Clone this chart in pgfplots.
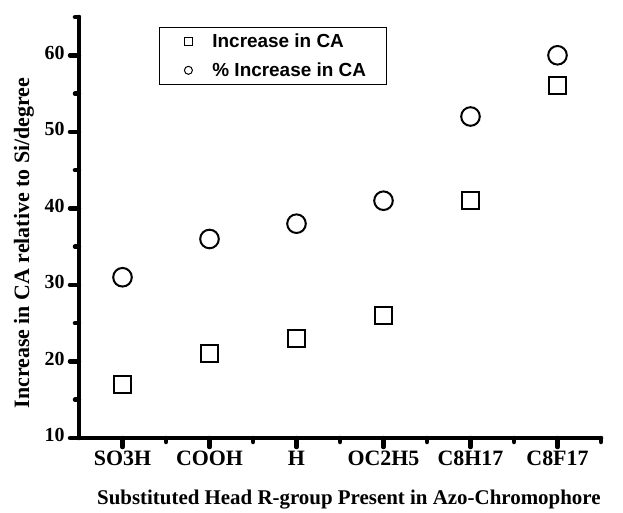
\documentclass[border=0pt]{standalone}
\usepackage{pgfplots}
\pgfplotsset{compat=1.18}
\usepackage{fontspec}
\setmainfont{Liberation Serif}
\newfontfamily\arial{Liberation Sans}
\pgfplotstableread{
x inc pct
1 17 31
2 21 36
3 23 38
4 26 41
5 41 52
6 56 60
}\datatable
\begin{document}
\begin{tikzpicture}
\path[use as bounding box] (-79bp,-75bp) rectangle (544bp,438bp);
\begin{axis}[
  scale only axis,
  width=522bp, height=421bp,
  xmin=0.5, xmax=6.5, ymin=10, ymax=65,
  axis lines=left,
  axis line style={-, line width=4.5bp, line cap=round},
  xtick={1,...,6},
  xticklabels={SO3H,COOH,H,OC2H5,C8H17,C8F17},
  minor xtick={1.5,2.5,3.5,4.5,5.5,6.5},
  ytick={10,20,...,60},
  minor ytick={15,25,...,65},
  tick align=outside,
  major tick length=9bp,
  minor tick length=4bp,
  every tick/.append style={black, line width=4.5bp, line cap=round},
  every major tick/.append style={black, line width=4.5bp, line cap=round},
  every minor tick/.append style={black, line width=4.5bp, line cap=round},
  typeset ticklabels with strut,
  /pgf/number format/assume math mode=true,
  yticklabel style={font=\fontsize{20}{20}\selectfont\bfseries, xshift=-2bp},
  xticklabel style={font=\fontsize{22}{22}\selectfont\bfseries, yshift=0bp},
  xlabel={Substituted Head R-group Present in Azo-Chromophore},
  ylabel={Increase in CA relative to Si/degree},
  xlabel style={font=\fontsize{21}{21}\selectfont\bfseries, at={(axis description cs:0.517,-0.159)}, anchor=base},
  ylabel style={font=\fontsize{22}{22}\selectfont\bfseries, at={(axis description cs:-0.1054,0.463)}, anchor=center, rotate=0},
  legend cell align=left,
  legend style={at={(axis description cs:0.1533,0.976)}, anchor=north west,
    draw=black, line width=0.8bp, inner xsep=18bp, inner ysep=4bp,
    font=\arial\bfseries\fontsize{19}{21}\selectfont,
    row sep=10bp},
  legend image code/.code={%
    \path (0bp,0bp) (31bp,0bp);
    \draw[#1, mark size=4bp, line width=1bp] plot coordinates {(10bp,0bp)};},
  clip=false,
]
\addplot[only marks, mark=square, mark size=8.5bp, line width=2bp, black] table[x=x,y=inc]{\datatable};
\addlegendentry{Increase in CA}
\addplot[only marks, mark=o, mark size=9.3bp, line width=2bp, black] table[x=x,y=pct]{\datatable};
\addlegendentry{\% Increase in CA}
\end{axis}
\end{tikzpicture}
\end{document}
